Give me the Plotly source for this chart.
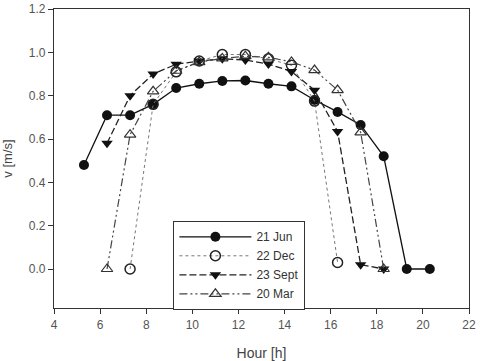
import plotly.graph_objects as go

hours = [5.3, 6.3, 7.3, 8.3, 9.3, 10.3, 11.3, 12.3, 13.3, 14.3, 15.3, 16.3, 17.3, 18.3, 19.3, 20.3]

jun_x = hours
jun_v = [0.48, 0.71, 0.71, 0.76, 0.835, 0.855, 0.868, 0.87, 0.855, 0.843, 0.78, 0.725, 0.665, 0.52, 0.0, 0.0]

dec_x = [7.3, 8.3, 9.3, 10.3, 11.3, 12.3, 13.3, 14.3, 15.3, 16.3]
dec_v = [0.0, 0.76, 0.91, 0.96, 0.99, 0.99, 0.97, 0.94, 0.775, 0.03]

sep_x = [6.3, 7.3, 8.3, 9.3, 10.3, 11.3, 12.3, 13.3, 14.3, 15.3, 16.3, 17.3, 18.3]
sep_v = [0.58, 0.80, 0.90, 0.945, 0.96, 0.97, 0.965, 0.946, 0.912, 0.825, 0.635, 0.02, 0.0]

mar_x = [6.3, 7.3, 8.3, 9.3, 10.3, 11.3, 12.3, 13.3, 14.3, 15.3, 16.3, 17.3, 18.3]
mar_v = [0.0, 0.62, 0.82, 0.915, 0.955, 0.972, 0.982, 0.977, 0.956, 0.918, 0.826, 0.631, 0.0]

y_ticks = [0.0, 0.2, 0.4, 0.6, 0.8, 1.0, 1.2]
x_ticks = [4, 6, 8, 10, 12, 14, 16, 18, 20, 22]

fig = go.Figure()
fig.add_trace(go.Scatter(x=jun_x, y=jun_v, name="21 Jun", mode="lines+markers",
                         line=dict(color="#111", width=1.3, dash="solid"),
                         marker=dict(symbol="circle", size=10, color="#111")))
fig.add_trace(go.Scatter(x=dec_x, y=dec_v, name="22 Dec", mode="lines+markers",
                         line=dict(color="#777", width=1, dash="dot"),
                         marker=dict(symbol="circle-open", size=10, color="#222", line=dict(width=1.5))))
fig.add_trace(go.Scatter(x=sep_x, y=sep_v, name="23 Sept", mode="lines+markers",
                         line=dict(color="#222", width=1.3, dash="7px,3px"),
                         marker=dict(symbol="triangle-down", size=10, color="#111")))
fig.add_trace(go.Scatter(x=mar_x, y=mar_v, name="20 Mar", mode="lines+markers",
                         line=dict(color="#444", width=1.2, dash="8px,3px,2px,3px,2px,3px"),
                         marker=dict(symbol="triangle-up-open", size=10, color="#333", line=dict(width=1.2))))

fig.update_layout(
    width=480, height=361,
    margin=dict(l=54, r=11, t=9, b=53, autoexpand=False),
    paper_bgcolor="white", plot_bgcolor="white",
    font=dict(family="Liberation Sans, Arial, sans-serif", size=12, color="#555"),
    showlegend=True,
    legend=dict(x=0.287, y=0.291, xanchor="left", yanchor="top",
                bordercolor="#333", borderwidth=1.3, bgcolor="white",
                font=dict(size=12, color="#333"), itemwidth=72,
                tracegroupgap=0),
)
fig.update_xaxes(range=[4, 22], tickvals=x_ticks, ticks="outside", ticklen=5,
                 tickcolor="#333", showline=True, linecolor="#333", linewidth=1.3,
                 mirror=True, showgrid=False, zeroline=False, automargin=False,
                 ticklabeloverflow="allow",
                 title=dict(text="Hour [h]", font=dict(size=14, color="#444"), standoff=18))
fig.update_yaxes(range=[-0.18, 1.2], tickvals=y_ticks, tickformat=".1f", ticks="outside", ticklen=5,
                 tickcolor="#333", showline=True, linecolor="#333", linewidth=1.3,
                 mirror=True, showgrid=False, zeroline=False, automargin=False,
                 ticklabeloverflow="allow",
                 title=dict(text="v [m/s]", font=dict(size=13, color="#444"), standoff=15))

fig.write_html("out.html", config={"displayModeBar": False},
               post_script="document.body.style.margin='0';document.body.style.overflow='hidden';")
